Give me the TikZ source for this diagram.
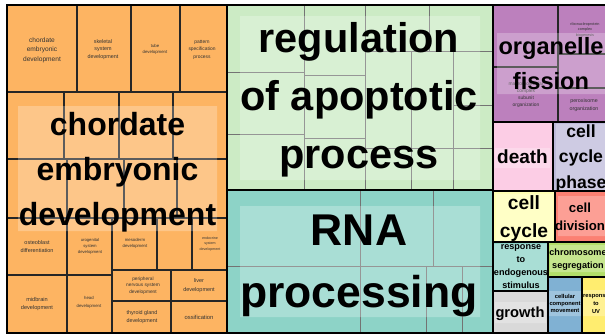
\documentclass[tikz,border=0pt]{standalone}
\usepackage{fontspec}
\setmainfont{Liberation Sans}
\usepackage{xcolor}
\usepackage{tikz}

\newcommand{\fsz}[2]{\fontsize{#1}{#2}\selectfont}

\definecolor{setorange}{HTML}{FDB462}
\definecolor{setlightgreen}{HTML}{CCEBC5}
\definecolor{setteal}{HTML}{8DD3C7}
\definecolor{setpurple}{HTML}{BC80BD}
\definecolor{setpink}{HTML}{FCCDE5}
\definecolor{setlavender}{HTML}{BEBADA}
\definecolor{setlightyellow}{HTML}{FFFFB3}
\definecolor{setsalmon}{HTML}{FB8072}
\definecolor{setgrey}{HTML}{D9D9D9}
\definecolor{setgreen}{HTML}{B3DE69}
\definecolor{setblue}{HTML}{80B1D3}
\definecolor{setyellow}{HTML}{FFED6F}

\begin{document}
\begin{tikzpicture}[x=1pt,y=-1pt,
	tile/.style={draw=black!85,line width=1.1pt},
	softtile/.style={draw=black!55,line width=0.8pt},
	group/.style={draw=black,line width=2pt},
	labelbox/.style={fill=white,fill opacity=0.25},
	biglabel/.style 2 args={anchor=base,align=center,inner sep=0pt,font=\bfseries\fsz{#1}{#2}},
	smalllabel/.style 2 args={anchor=base,align=center,inner sep=0pt,text=black!80,font=\fsz{#1}{#2}}]
	\useasboundingbox (0,0) rectangle (605,335);
	\clip (0,0) rectangle (605,335);
	%
	%  TILES
	%
	\fill[setorange] (7,5) rectangle (227,333);
	\path[tile]
	(7,5) rectangle (77,92) (77,5) rectangle (131,92) (131,5) rectangle (180,92) (180,5) rectangle (227,92)
	(7,92) rectangle (64,159) (64,92) rectangle (119,159) (119,92) rectangle (173,159) (173,92) rectangle (227,159)
	(7,159) rectangle (67,218) (67,159) rectangle (124,218) (124,159) rectangle (177,218) (177,159) rectangle (227,218)
	(7,218) rectangle (67,275) (67,218) rectangle (112,275) (7,275) rectangle (67,333) (67,275) rectangle (112,333)
	(112,218) rectangle (157,270) (157,218) rectangle (192,270) (192,218) rectangle (227,270)
	(112,270) rectangle (171,301) (171,270) rectangle (227,301) (112,301) rectangle (171,333) (171,301) rectangle (227,333);
	\fill[setlightgreen] (227,5) rectangle (493,190);
	\path[softtile]
	(227,5) rectangle (304,72) (227,72) rectangle (304,134) (227,134) rectangle (304,190)
	(304,5) rectangle (365,75) (304,75) rectangle (365,138) (304,138) rectangle (365,190)
	(365,5) rectangle (429,51) (429,5) rectangle (493,51)
	(365,51) rectangle (411,148) (411,51) rectangle (453,148) (453,51) rectangle (493,105) (453,105) rectangle (493,148)
	(365,148) rectangle (411,190) (411,148) rectangle (453,190) (453,148) rectangle (493,190);
	\fill[setteal] (227,190) rectangle (493,333);
	\path[softtile]
	(227,190) rectangle (360,266) (227,266) rectangle (360,333) (360,190) rectangle (433,266) (433,190) rectangle (493,266)
	(360,266) rectangle (426,333) (426,266) rectangle (462,333) (462,266) rectangle (493,333);
	\fill[setpurple] (493,5) rectangle (612,122);
	\path[tile]
	(493,5) rectangle (558,67) (493,67) rectangle (558,122)
	(558,5) rectangle (612,54) (558,54) rectangle (612,88) (558,88) rectangle (612,122);
	\fill[setpink] (493,122) rectangle (553,191);
	\fill[setlavender] (553,122) rectangle (612,191);
	\fill[setlightyellow] (493,191) rectangle (555,242);
	\fill[setsalmon] (555,191) rectangle (612,242);
	\fill[setteal] (493,242) rectangle (548,291);
	\fill[setgrey] (493,291) rectangle (548,333);
	\fill[setgreen] (548,242) rectangle (612,277);
	\fill[setblue] (548,277) rectangle (582,333);
	\fill[setyellow] (582,277) rectangle (612,333);
	%
	%  SMALL LABELS (placed at the baseline of their last line)
	%
	\node[smalllabel={6.6}{9.5}] (N) at (42,61) {chordate\\embryonic\\development};
	\node[smalllabel={5.4}{7.5}] (O) at (103,58) {skeletal\\system\\development};
	\node[smalllabel={4.3}{6.5}] (P) at (155,53.5) {tube\\development};
	\node[smalllabel={4.9}{7.5}] (Q) at (202,58) {pattern\\specification\\process};
	\node[smalllabel={5.5}{8}] (R) at (37,252) {osteoblast\\differentiation};
	\node[smalllabel={4.2}{6}] (S) at (90,253) {urogenital\\system\\development};
	\node[smalllabel={4.3}{6}] (T) at (135,247) {mesoderm\\development};
	\node[smalllabel={3.6}{5.5}] (U) at (210,250) {endocrine\\system\\development};
	\node[smalllabel={4.8}{6.5}] (V) at (143,293) {peripheral\\nervous system\\development};
	\node[smalllabel={5.5}{9}] (W) at (199,291) {liver\\development};
	\node[smalllabel={5.6}{8}] (X) at (37,309) {midbrain\\development};
	\node[smalllabel={4.3}{8}] (Y) at (89,307) {head\\development};
	\node[smalllabel={5.4}{8}] (Z) at (142,322) {thyroid gland\\development};
	\node[smalllabel={5.8}{8}] (A1) at (199,319) {ossification};
	\node[smalllabel={3.8}{5.5}] (A2) at (585,36) {ribonucleoprotein\\complex\\biogenesis};
	\node[smalllabel={4.9}{7}] (A3) at (526,106) {macromolecular\\complex\\subunit\\organization};
	\node[smalllabel={5.3}{8}] (A4) at (584,110) {peroxisome\\organization};
	%
	%  LABEL BOXES
	%
	\path[labelbox]
	(18,106) rectangle (217,231)
	(240,16) rectangle (480,180)
	(240,206) rectangle (480,317)
	(497,33) rectangle (612,94)
	(495,148) rectangle (550,168)
	(556,124) rectangle (608,190)
	(496,194) rectangle (553,242)
	(558,196) rectangle (608,236)
	(494,244) rectangle (547,291)
	(495,302) rectangle (546,323)
	(550,245) rectangle (608,272)
	(549,291) rectangle (581,316)
	(583,290) rectangle (608,316);
	%
	%  BIG LABELS (placed at the baseline of their last line)
	%
	\node[biglabel={32}{45}] (A) at (117.5,225) {chordate\\embryonic\\development};
	\node[biglabel={41.5}{58}] (B) at (359,168) {regulation\\of apoptotic\\process};
	\node[biglabel={44.5}{62}] (C) at (359,307) {RNA\\processing};
	\node[biglabel={23.6}{35}] (D) at (551,89) {organelle\\fission};
	\node[biglabel={19}{19}] (E) at (522.5,163) {death};
	\node[biglabel={17.6}{25.5}] (F) at (581,188) {cell\\cycle\\phase};
	\node[biglabel={19.2}{28}] (G) at (524,237) {cell\\cycle};
	\node[biglabel={13.2}{18}] (H) at (580,230) {cell\\division};
	\node[biglabel={9.1}{12.7}] (I) at (521,288) {response\\to\\endogenous\\stimulus};
	\node[biglabel={14.7}{15}] (J) at (520,317) {growth};
	\node[biglabel={9.1}{13}] (K) at (578,268) {chromosome\\segregation};
	\node[biglabel={5.75}{7}] (L) at (565,312) {cellular\\component\\movement};
	\node[biglabel={5.75}{8}] (M) at (596,313) {response\\to\\UV};
	%
	%  GROUP BORDERS
	%
	\path[group]
	(7,5) rectangle (227,333) (227,5) rectangle (493,190) (227,190) rectangle (493,333)
	(493,5) rectangle (612,122) (493,122) rectangle (553,191) (553,122) rectangle (612,191)
	(493,191) rectangle (555,242) (555,191) rectangle (612,242) (493,242) rectangle (548,291)
	(493,291) rectangle (548,333) (548,242) rectangle (612,277) (548,277) rectangle (582,333)
	(582,277) rectangle (612,333);
\end{tikzpicture}
\end{document}
